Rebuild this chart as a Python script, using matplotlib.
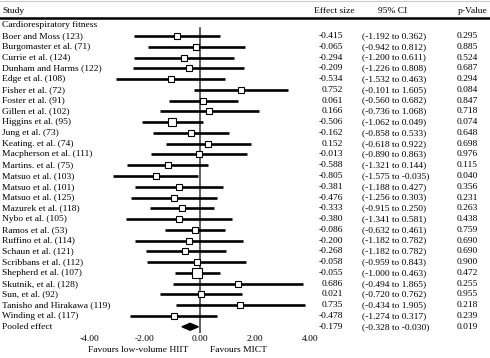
import matplotlib
matplotlib.use("Agg")
import matplotlib.pyplot as plt
from matplotlib.lines import Line2D

plt.rcParams['font.family'] = ['Liberation Serif', 'DejaVu Serif']

studies = ["Boer and Moss (123)", "Burgomaster et al. (71)", "Currie et al. (124)",
           "Dunham and Harms (122)", "Edge et al. (108)", "Fisher et al. (72)",
           "Foster et al. (91)", "Gillen et al. (102)", "Higgins et al. (95)",
           "Jung et al. (73)", "Keating. et al. (74)", "Macpherson et al. (111)",
           "Martins. et al. (75)", "Matsuo et al. (103)", "Matsuo et al. (101)",
           "Matsuo et al. (125)", "Mazurek et al. (118)", "Nybo et al. (105)",
           "Ramos et al. (53)", "Ruffino et al. (114)", "Schaun et al. (121)",
           "Scribbans et al. (112)", "Shepherd et al. (107)", "Skutnik, et al. (128)",
           "Sun, et al. (92)", "Tanisho and Hirakawa (119)", "Winding et al. (117)"]
effect = [-0.415, -0.065, -0.294, -0.209, -0.534, 0.752, 0.061, 0.166, -0.506,
          -0.162, 0.152, -0.013, -0.588, -0.805, -0.381, -0.476, -0.333, -0.380,
          -0.086, -0.200, -0.268, -0.058, -0.055, 0.686, 0.021, 0.735, -0.478]
# whiskers as drawn in the picture
lower = [-1.192, -0.942, -1.200, -1.226, -1.532, -0.101, -0.560, -0.736, -1.062,
         -0.858, -0.618, -0.890, -1.321, -1.575, -1.188, -1.256, -0.915, -1.341,
         -0.632, -1.182, -0.990, -0.959, -0.455, -0.494, -0.720, -0.434, -1.274]
upper = [0.362, 0.812, 0.611, 0.808, 0.463, 1.605, 0.682, 1.068, 0.049,
         0.533, 0.922, 0.863, 0.144, -0.035, 0.427, 0.303, 0.250, 0.581,
         0.461, 0.782, 0.470, 0.843, 0.364, 1.865, 0.762, 1.905, 0.317]
effect_text = ["-0.415", "-0.065", "-0.294", "-0.209", "-0.534", "0.752", "0.061",
               "0.166", "-0.506", "-0.162", "0.152", "-0.013", "-0.588", "-0.805",
               "-0.381", "-0.476", "-0.333", "-0.380", "-0.086", "-0.200", "-0.268",
               "-0.058", "-0.055", "0.686", "0.021", "0.735", "-0.478"]
ci_text = ["(-1.192 to 0.362)", "(-0.942 to 0.812)", "(-1.200 to 0.611)",
           "(-1.226 to 0.808)", "(-1.532 to 0.463)", "(-0.101 to 1.605)",
           "(-0.560 to 0.682)", "(-0.736 to 1.068)", "(-1.062 to 0.049)",
           "(-0.858 to 0.533)", "(-0.618 to 0.922)", "(-0.890 to 0.863)",
           "(-1.321 to 0.144)", "(-1.575 to -0.035)", "(-1.188 to 0.427)",
           "(-1.256 to 0.303)", "(-0.915 to 0.250)", "(-1.341 to 0.581)",
           "(-0.632 to 0.461)", "(-1.182 to 0.782)", "(-1.182 to 0.782)",
           "(-0.959 to 0.843)", "(-1.000 to 0.463)", "(-0.494 to 1.865)",
           "(-0.720 to 0.762)", "(-0.434 to 1.905)", "(-1.274 to 0.317)"]
p_text = ["0.295", "0.885", "0.524", "0.687", "0.294", "0.084", "0.847", "0.718",
          "0.074", "0.648", "0.698", "0.976", "0.115", "0.040", "0.356", "0.231",
          "0.263", "0.438", "0.759", "0.690", "0.690", "0.900", "0.472", "0.255",
          "0.955", "0.218", "0.239"]
# relative study weights (marker size)
weights = [1, 1, 1, 1, 1, 1, 1.2, 1, 1.4, 1, 1, 1, 1, 1, 1, 1, 1.25, 1, 1.3,
           1, 1, 1, 1.8, 1, 1, 1, 1]

pooled = -0.179
pooled_low, pooled_high = -0.328, -0.030
pooled_effect_text, pooled_ci_text, pooled_p_text = "-0.179", "(-0.328 to -0.030)", "0.019"

tick_pos = [-2, -1, 0, 1, 2]
tick_labels = ["-4.00", "-2.00", "0.00", "2.00", "4.00"]

W, H = 490, 358
fig = plt.figure(figsize=(W / 100, H / 100), dpi=100)

PX_PER_UNIT = 55.0
X0 = 200.0
ROW0, ROWH = 36.0, 10.77
AX_TOP, AX_BOT = 20.0, 333.0
ax = fig.add_axes([0, 1 - AX_BOT / H, 1, (AX_BOT - AX_TOP) / H])
ax.set_xlim(-X0 / PX_PER_UNIT, (W - X0) / PX_PER_UNIT)
ax.set_ylim((AX_BOT - ROW0) / ROWH, (AX_TOP - ROW0) / ROWH)
for s in ax.spines.values():
    s.set_visible(False)
ax.set_yticks([])
ax.set_xticks(tick_pos)
ax.set_xticklabels(tick_labels, fontsize=6.8)
ax.tick_params(axis='x', length=0, pad=1.5)
ax.patch.set_alpha(0)

ax.axvline(0, ymin=0, ymax=(AX_BOT - 28) / (AX_BOT - AX_TOP), color='#333333', lw=1.1, zorder=1)

for i in range(len(studies)):
    ax.plot([lower[i], upper[i]], [i, i], color='black', lw=1.9, solid_capstyle='butt', zorder=2)
    ax.plot(effect[i], i, marker='s', ms=3.8 * weights[i], mfc='white', mec='black', mew=0.8, zorder=3)

n = len(studies)
ax.fill([pooled_low, pooled, pooled_high, pooled], [n, n - 0.32, n, n + 0.32], color='black', zorder=3)

FS = 6.8

def ftext(x, y, s, ha='left', **kw):
    fig.text(x / W, 1 - y / H, s, ha=ha, va='center', fontsize=FS, **kw)

# header
ftext(2, 11, "Study")
ftext(334, 11, "Effect size", ha='center')
ftext(393, 11, "95% CI", ha='center')
ftext(458, 11, "p-Value")
fig.add_artist(Line2D([0, 1], [1 - 18 / H, 1 - 18 / H], color='black', lw=1.8, transform=fig.transFigure))
fig.add_artist(Line2D([0, 1], [1 - 0.5 / H, 1 - 0.5 / H], color='#cccccc', lw=0.8, transform=fig.transFigure))
ftext(2, 25, "Cardiorespiratory fitness")

for i in range(n):
    y = ROW0 + i * ROWH
    ftext(2, y, studies[i])
    ftext(343, y, effect_text[i], ha='right')
    ftext(362, y, ci_text[i])
    ftext(457, y, p_text[i])

yp = ROW0 + n * ROWH
ftext(2, yp, "Pooled effect")
ftext(343, yp, pooled_effect_text, ha='right')
ftext(362, yp, pooled_ci_text)
ftext(457, yp, pooled_p_text)

ftext(138, 350, "Favours low-volume HIIT", ha='center')
ftext(238, 350, "Favours MICT", ha='center')

fig.savefig("out.png", dpi=100, facecolor='white')
